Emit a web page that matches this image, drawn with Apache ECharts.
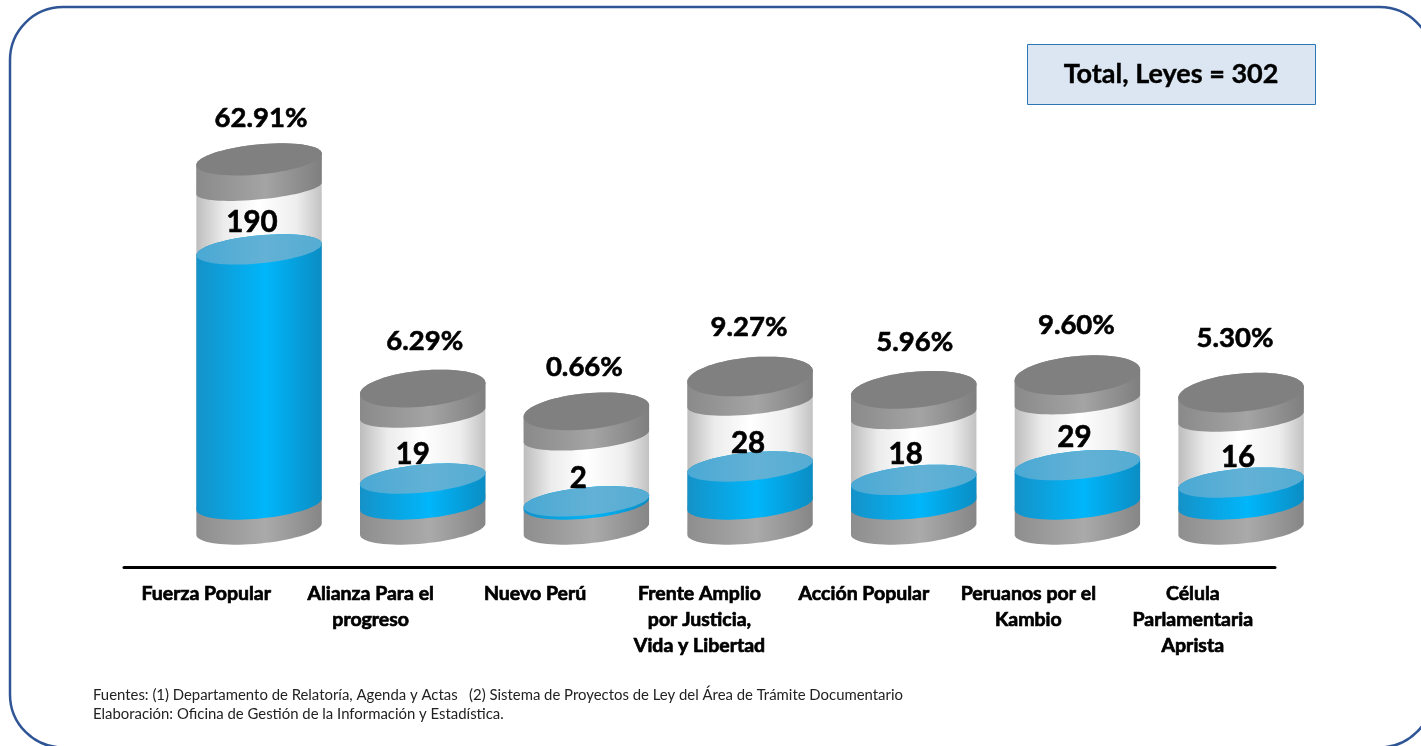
<!DOCTYPE html>
<html><head><meta charset="utf-8">
<script src="https://cdn.jsdelivr.net/npm/echarts@6/dist/echarts.min.js"></script>
<style>html,body{margin:0;padding:0;background:#fff}#c{width:1421px;height:746px}</style>
</head><body><div id="c"></div>
<script>
const categories = ["Fuerza Popular","Alianza Para el\nprogreso","Nuevo Perú","Frente Amplio\npor Justicia,\nVida y Libertad","Acción Popular","Peruanos por el\nKambio","Célula\nParlamentaria\nAprista"];
const leyes = [190,19,2,28,18,29,16];
const porcentajes = ["62.91%","6.29%","0.66%","9.27%","5.96%","9.60%","5.30%"];
const totalLabel = "Total, Leyes = 302";
const fuentes = "Fuentes: (1) Departamento de Relatoría, Agenda y Actas   (2) Sistema de Proyectos de Ley del Área de Trámite Documentario\nElaboración: Oficina de Gestión de la Información y Estadística.";

// layout nudges (px)
const valueNudge = [[-7,-27],[-10,-24.5],[-8,-23],[-2,-22.5],[-8,-25],[-3,-28],[-3,-24.6]];
const pctNudge = [[2,-41],[2,-47.5],[-2,-44],[-1,-49.5],[1,-48],[-1,-50],[-6,-54.6]];
const capRy = [15,18,18,19,18,19,19];

const FONT = 'Lato, "Open Sans", sans-serif';
const G = echarts.graphic.LinearGradient;
const hgrad = (e,m,f) => new G(0,0,1,0,[{offset:0,color:e},{offset:.55,color:m},{offset:1,color:f||e}]);
const TILT = -5.5*Math.PI/180, RX = 63, GLASS = 90;
function pt(cx,cy,t,ry){
  const c=Math.cos(t), s=Math.sin(t);
  return [cx+RX*c*Math.cos(TILT)-ry*s*Math.sin(TILT), cy+RX*c*Math.sin(TILT)+ry*s*Math.cos(TILT)];
}
function ellipse(cx,cy,ry){ const p=[]; for(let i=0;i<72;i++) p.push(pt(cx,cy,i/72*2*Math.PI,ry)); return p; }
function body(cx,yTop,yBot,ryTop,ryBot){
  const p=[];
  for(let i=0;i<=36;i++) p.push(pt(cx,yBot,i/36*Math.PI,ryBot));
  for(let i=0;i<=36;i++) p.push(pt(cx,yTop,Math.PI+i/36*Math.PI,ryTop));
  return p;
}
const poly=(points,fill)=>({type:'polygon',shape:{points},style:{fill}});

function renderCyl(params,api){
  const i=api.value(0), v=api.value(1);
  const [cx,blue]=api.coord([i,v]);
  const [,zero]=api.coord([i,0]);
  const cap=blue-GLASS, ry=capRy[i];
  const capLow=i===0?29:25, capLowRy=i===0?11:13;
  const kids=[
    poly(body(cx,zero-3,zero+25,10,14.5),hgrad('#8e8e8e','#aaaaaa','#868686')),
    poly(body(cx,cap,zero-3,ry,10),new G(0,0,1,0,[{offset:0,color:'#bdbdbd'},{offset:.22,color:'#ececec'},{offset:.5,color:'#ffffff'},{offset:.8,color:'#eeeeee'},{offset:1,color:'#c2c2c2'}])),
    poly(body(cx,blue,zero,14,14.5),new G(0,0,1,0,[{offset:0,color:'#1592c8'},{offset:.55,color:'#00b6fa'},{offset:1,color:'#0b8dc4'}])),
    poly(ellipse(cx,blue,14),hgrad('#4aa9d4','#63b1d5','#55acd3')),
    poly(body(cx,cap,cap+capLow,ry,capLowRy),hgrad('#8a8a8a','#a4a4a4','#7f7f7f')),
    poly(ellipse(cx,cap,ry),'#808080'),
    {type:'text',style:{text:String(leyes[i]),x:cx+valueNudge[i][0],y:blue+valueNudge[i][1],align:'center',verticalAlign:'middle',font:'bold 29.5px '+FONT,fill:'#000',stroke:'#000',lineWidth:.6}},
    {type:'text',style:{text:porcentajes[i],x:cx+pctNudge[i][0],y:cap+pctNudge[i][1],align:'center',verticalAlign:'middle',font:'bold 27.5px '+FONT,fill:'#000',stroke:'#000',lineWidth:.6}}
  ];
  return {type:'group',children:kids};
}

const chart=echarts.init(document.getElementById('c'),null,{renderer:'canvas'});
chart.setOption({
  animation:false,
  backgroundColor:'#fff',
  grid:[
    {left:177.2,width:1145.7,top:102,height:402},
    {left:124,width:1151,top:510,bottom:178.5}
  ],
  xAxis:[
    {type:'category',gridIndex:0,data:categories,show:false},
    {type:'category',gridIndex:1,data:categories,
     axisLine:{show:true,lineStyle:{color:'#000',width:3}},axisTick:{show:false},
     axisLabel:{interval:0,margin:13,fontFamily:FONT,fontWeight:'bold',fontSize:19.5,lineHeight:26,color:'#000',textBorderColor:'#000',textBorderWidth:.7}}
  ],
  yAxis:[
    {type:'value',gridIndex:0,min:0,max:300,show:false},
    {type:'value',gridIndex:1,min:0,max:1,show:false}
  ],
  series:[{type:'custom',xAxisIndex:0,yAxisIndex:0,clip:false,coordinateSystem:'cartesian2d',
    encode:{x:0,y:1},renderItem:renderCyl,data:leyes.map((v,i)=>[i,v])}],
  graphic:[
    {type:'rect',z:-1,shape:{x:10,y:7,width:1422.5,height:740.5,r:53},style:{fill:'#fff',stroke:'#2f5597',lineWidth:2.5}},
    {type:'rect',shape:{x:1027.5,y:44.5,width:288,height:60},style:{fill:'#dce6f2',stroke:'#2e75b6',lineWidth:1}},
    {type:'text',style:{text:totalLabel,x:1171,y:74,align:'center',verticalAlign:'middle',font:'bold 27px '+FONT,fill:'#000',stroke:'#000',lineWidth:.4}},
    {type:'text',style:{text:fuentes,x:93,y:686,font:'14.9px '+FONT,lineHeight:18.5,fill:'#222'}}
  ]
});
</script></body></html>
